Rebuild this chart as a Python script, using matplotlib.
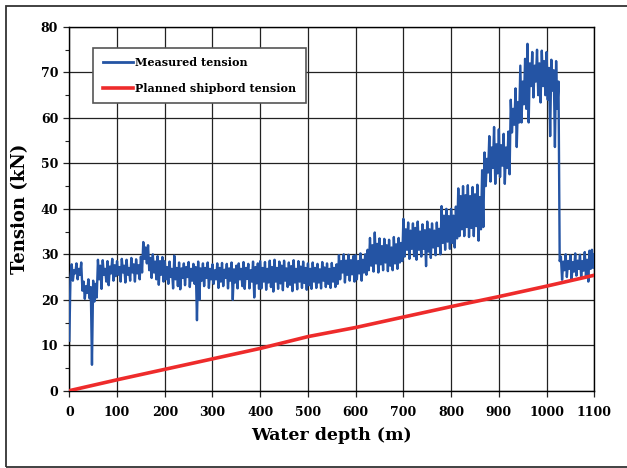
import numpy as np
import matplotlib
matplotlib.use("Agg")
import matplotlib.pyplot as plt
from matplotlib.patches import Rectangle

# ---------------- data ----------------
# The measured record is a fast-oscillating signal: its local peaks are read
# every 5 m (at 0, 5, 10 ... m) and its local troughs in between (2.5, 7.5 ... m).
sample_step = 5.0  # m
peaks_0 = [11, 27.8, 26.5, 28, 26.8, 28.2, 24, 23, 24.5, 22.8, 24.2, 23.5, 28.8, 27.5,
           28.7, 26.8, 28.5, 27.3, 29, 27.6]
troughs_0 = [25, 24.2, 25.8, 24.5, 25.5, 22, 20.2, 21.5, 20.3, 5.7, 19.6, 20.5, 24.5,
             22.4, 25.5, 24, 23.2, 25.8, 24.2, 25.2]
peaks_100 = [28.5, 27.2, 29, 27.5, 28.8, 27, 29.2, 27.8, 28.9, 27.6, 29.5, 32.7, 31.5,
             32, 29.2, 30, 28.4, 29.6, 28.5, 29.4]
troughs_100 = [25.5, 24, 26, 23.8, 25.5, 24.2, 26, 24, 25.8, 24.5, 26, 29, 28, 26.5,
               24.8, 26, 24.5, 23.3, 25.5, 24]
peaks_200 = [28.5, 27.2, 28.4, 26.8, 29.7, 27, 28.2, 26.9, 28, 27.2, 28.3, 26.8, 27.9,
             27.2, 28.4, 26.9, 28, 27, 28.2, 26.8]
troughs_200 = [24.5, 23.5, 25, 22.5, 24.5, 23, 22.3, 24.8, 23.2, 25, 22.8, 24.2, 23.5,
               15.5, 20, 24.2, 23, 24.8, 22.6, 24.5]
peaks_300 = [27.8, 26.5, 28, 27, 28.1, 26.6, 27.9, 26.9, 28.2, 26.7, 27.5, 28, 26.8,
             28.3, 27, 27.9, 26.5, 28.4, 27.2, 28]
troughs_300 = [23.5, 24.5, 22.6, 24, 23, 24.8, 22.5, 24.2, 20, 23.8, 22.5, 24.5, 23,
               22.4, 24.6, 22.5, 24, 20.5, 23.6, 22.4]
peaks_400 = [28.5, 27, 28.3, 26.8, 28.6, 27.2, 28.8, 27, 28.4, 27.5, 28.6, 26.9, 28.2,
             27.4, 28.7, 26.8, 28.5, 27.3, 28.4, 27]
troughs_400 = [22.5, 24, 22.2, 23.8, 22.8, 21.8, 24, 22.4, 23.6, 22.1, 24.2, 22.8, 23.3,
               21.9, 23.8, 22.3, 24, 22.6, 23.7, 22.2]
peaks_500 = [28, 26.8, 28.2, 27, 27.9, 26.7, 28.3, 27.1, 28, 26.8, 28.1, 27, 27.8, 29.8,
             28.5, 30, 28.6, 29.9, 28.7, 29.6]
troughs_500 = [23.2, 22.4, 24, 22.6, 23.8, 22.5, 24.2, 22.8, 23.5, 22.6, 24, 22.8, 23.5,
               24.5, 26, 23.8, 25.5, 24.2, 25.6, 24]
peaks_600 = [29.8, 28.5, 30.2, 28.8, 30, 31, 33.6, 32, 34.8, 32.3, 33.5, 31.8, 33.4, 32,
             33.2, 31.5, 33.8, 32.2, 33.6, 32.5]
troughs_600 = [24.5, 25.8, 24.2, 26, 25.5, 26.5, 27.5, 26.2, 28, 26, 27.8, 26.5, 28.2,
               26.3, 27.5, 26.5, 28, 26.8, 28.2, 28.5]
peaks_700 = [37.8, 35.5, 37, 35.2, 36.8, 35.8, 37.2, 35, 36.6, 35.3, 37.2, 35.5, 36.8,
             35.2, 37, 35.6, 40.6, 38.5, 40, 38.4]
troughs_700 = [29.5, 31, 29, 31.2, 29.6, 28.8, 31, 29.5, 31.2, 27.4, 30.6, 29.2, 31.5,
               29.8, 31.8, 30, 32.5, 31, 32.8, 31.2]
peaks_800 = [40, 38.5, 40.5, 44.5, 42.8, 45, 43, 45.2, 42.8, 44.8, 43.2, 45.3, 42.6,
             48.5, 52.4, 51, 56, 53.5, 58, 54.2]
troughs_800 = [32.5, 31.5, 33.5, 34, 35.5, 34, 36, 33.8, 35.8, 34, 36.2, 33, 35.5, 36,
               45, 48, 46, 49, 45.5, 47.8]
peaks_900 = [57.5, 54, 56.5, 53.5, 57, 64, 62, 66.5, 63.5, 71.5, 68, 73, 76.3, 72, 74.5,
             71.5, 75, 72, 74.8, 72.5]
troughs_900 = [47, 49.5, 45.5, 49, 47.6, 56.8, 58.5, 53.6, 59, 59, 63, 62, 59, 67, 64.5,
               68, 65, 63.4, 67, 65]
peaks_1000 = [74.5, 71, 72.8, 70.5, 72.5, 68, 29.5, 28.4, 30, 28.5, 29.8, 28.3, 30.2,
              28.6, 29.9, 28.5, 30.5, 28.8, 30.8, 31]
troughs_1000 = [64, 56, 66, 53.6, 62, 28.5, 24.4, 26.5, 25, 26.8, 24.5, 26.2, 25.3, 26.8,
                25, 26.4, 25.2, 24, 26.8, 27]
last_depth, last_tension = 1100, 30

planned_depth = [0, 100, 200, 300, 400, 500, 600, 700, 800, 900, 1000, 1100]
planned_tension = [0, 2.4, 4.7, 7.0, 9.3, 11.9, 13.9, 16.2, 18.5, 20.7, 23.0, 25.4]

x_ticks = [0, 100, 200, 300, 400, 500, 600, 700, 800, 900, 1000, 1100]
y_ticks = [0, 10, 20, 30, 40, 50, 60, 70, 80]

peaks = (peaks_0 + peaks_100 + peaks_200 + peaks_300 + peaks_400 + peaks_500 +
         peaks_600 + peaks_700 + peaks_800 + peaks_900 + peaks_1000)
troughs = (troughs_0 + troughs_100 + troughs_200 + troughs_300 + troughs_400 +
           troughs_500 + troughs_600 + troughs_700 + troughs_800 + troughs_900 +
           troughs_1000)
peak_depth = np.arange(len(peaks)) * sample_step
trough_depth = peak_depth + sample_step / 2
measured_depth = np.append(np.column_stack([peak_depth, trough_depth]).ravel(), last_depth)
measured_tension = np.append(np.column_stack([peaks, troughs]).ravel(), last_tension)

# ---------------- figure ----------------
W, H = 627, 468
fig = plt.figure(figsize=(W / 100, H / 100), dpi=100)
fig.patch.set_facecolor("white")

ax = fig.add_axes([69.3 / W, 1 - 390.7 / H, 525 / W, 363.7 / H])

font = dict(family="DejaVu Serif", weight="bold")

ax.plot(measured_depth, measured_tension, color="#2454A4", lw=1.7,
        label="Measured tension", zorder=3)
ax.plot(planned_depth, planned_tension, color="#EE2B2B", lw=2.6,
        label="Planned shipbord tension", zorder=4)

ax.set_xlim(0, 1100)
ax.set_ylim(0, 80)
ax.set_xticks(x_ticks)
ax.set_yticks(y_ticks)
ax.set_yticks(np.array(y_ticks[:-1]) + 5, minor=True)
ax.grid(True, which="major", color="#222222", lw=0.9, zorder=1)
ax.tick_params(axis="both", which="major", direction="out", length=4, width=0.9,
               color="#222222", pad=4)
ax.tick_params(axis="y", which="minor", direction="out", length=3, width=0.8,
               color="#222222")
for lab in ax.get_xticklabels() + ax.get_yticklabels():
    lab.set_fontfamily("DejaVu Serif")
    lab.set_fontweight("bold")
    lab.set_fontsize(9)
ax.tick_params(axis="x", pad=7)
for s in ax.spines.values():
    s.set_color("black")
    s.set_linewidth(1.0)

ax.set_xlabel("Water depth (m)", fontsize=12.5, labelpad=6, **font)
ax.set_ylabel("Tension (kN)", fontsize=13, labelpad=8, **font)

leg = ax.legend(loc="upper left", bbox_to_anchor=(0.0457, 0.943),
                prop=dict(family="DejaVu Serif", weight="bold", size=8),
                frameon=True, fancybox=False, shadow=False, borderpad=0.85,
                labelspacing=1.3, handlelength=2.7, handletextpad=0.2,
                borderaxespad=0)
leg.get_frame().set_edgecolor("#555555")
leg.get_frame().set_linewidth(1.2)
leg.get_frame().set_alpha(1)
for h in leg.get_lines():
    h.set_linewidth(2.0 if h.get_label().startswith("M") else 2.6)

# outer frame of the picture
fig.patches.append(Rectangle((6 / W, 1 - 466.5 / H), 1.0, (466.5 - 5.5) / H,
                             transform=fig.transFigure, fill=False,
                             edgecolor="#333333", lw=1.3, clip_on=False))

fig.savefig("out.png", dpi=100)
